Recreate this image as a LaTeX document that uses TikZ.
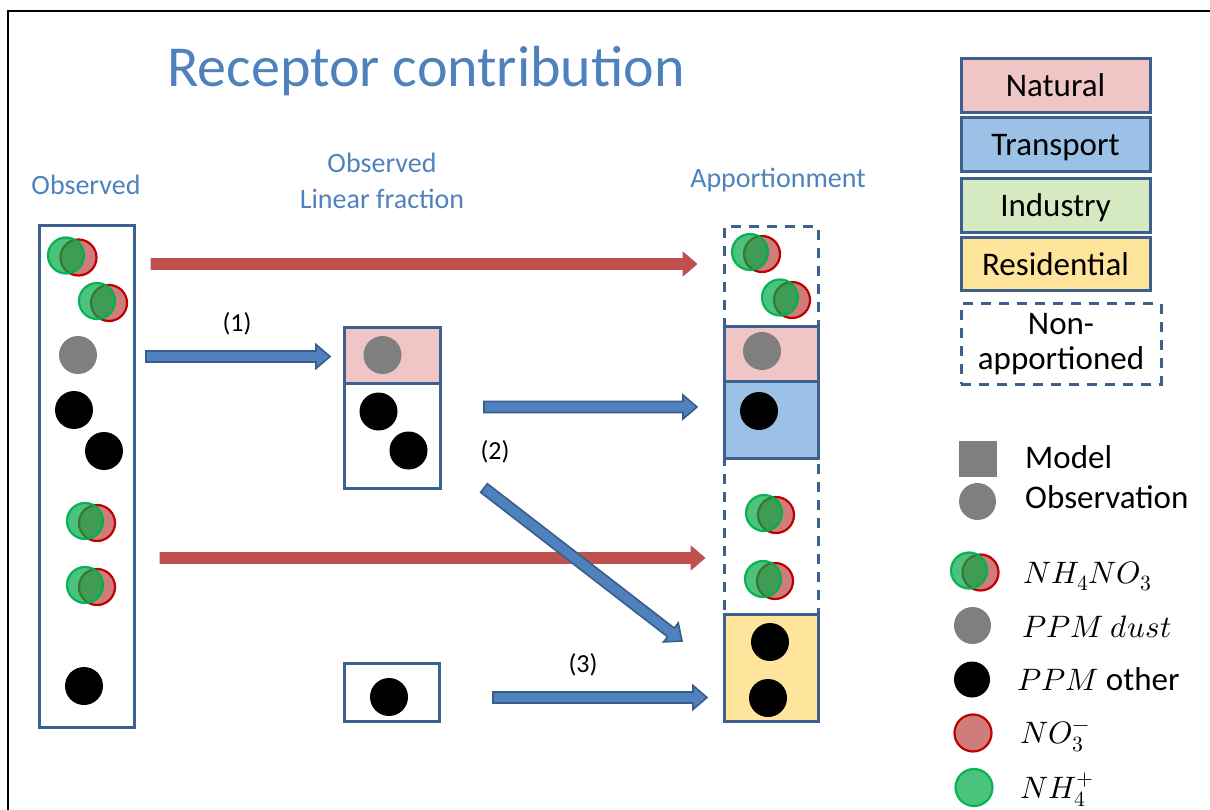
\documentclass[tikz,border=0pt]{standalone}
\usepackage{fontspec}
\usepackage{unicode-math}
\setmainfont{Carlito}
\setmathfont{Latin Modern Math}
\usetikzlibrary{calc}
\definecolor{boxc}{HTML}{3E608E}
\definecolor{txtblue}{HTML}{4F81BD}
\definecolor{natfill}{HTML}{EFC5C5}
\definecolor{trafill}{HTML}{9BC2E6}
\definecolor{indfill}{HTML}{D6EAC1}
\definecolor{resfill}{HTML}{FFE49B}
\definecolor{afill}{HTML}{4F81BD}
\definecolor{aline}{HTML}{385D8A}
\definecolor{redarr}{HTML}{C0504D}
\definecolor{dustc}{HTML}{7F7F7F}
\definecolor{no3fill}{HTML}{C0504D}
\definecolor{no3line}{HTML}{C00000}
\definecolor{nh4fill}{RGB}{0,170,70}
\definecolor{nh4line}{RGB}{0,176,80}
\tikzset{
  box/.style={draw=boxc, line width=3pt, rectangle, inner sep=0pt},
  dbox/.style={box, dash pattern=on 10pt off 8pt},
  ppm/.style={circle, fill=black, minimum size=38pt, inner sep=0pt},
  dust/.style={circle, fill=dustc, minimum size=38pt, inner sep=0pt},
  no3/.style={circle, fill=no3fill, fill opacity=0.75, draw=no3line, line width=2.2pt, minimum size=36pt, inner sep=0pt},
  nh4/.style={circle, fill=nh4fill, fill opacity=0.7, draw=nh4line, draw opacity=0.95, line width=2.2pt, minimum size=36pt, inner sep=0pt},
  blockarrow/.style={line join=miter,
    to path={let \p1=(\tikztostart), \p2=(\tikztotarget),
      \n1={atan2(\y2-\y1,\x2-\x1)}, \n2={veclen(\x2-\x1,\y2-\y1)} in
      ([shift={(\p1)},rotate=\n1]0pt,-5.5pt)
      -- ([shift={(\p1)},rotate=\n1]\n2-14pt,-5.5pt)
      -- ([shift={(\p1)},rotate=\n1]\n2-14pt,-12pt)
      -- ([shift={(\p1)},rotate=\n1]\n2+0pt,0pt)
      -- ([shift={(\p1)},rotate=\n1]\n2-14pt,12pt)
      -- ([shift={(\p1)},rotate=\n1]\n2-14pt,5.5pt)
      -- ([shift={(\p1)},rotate=\n1]0pt,5.5pt) -- cycle}},
  bluearrow/.style={blockarrow, fill=afill, draw=aline, line width=1.6pt},
  redarrow/.style={blockarrow, fill=redarr, draw=redarr, line width=0.6pt},
  lbl/.style={text=txtblue, font=\fontsize{28}{32}\selectfont, inner sep=0pt},
  title/.style={text=txtblue, font=\fontsize{58}{64}\selectfont, inner sep=0pt},
  num/.style={font=\fontsize{26}{30}\selectfont, inner sep=0pt},
  legbox/.style={box, font=\fontsize{33}{35}\selectfont, text height=22pt, text depth=0pt},
  legtxt/.style={font=\fontsize{33}{35}\selectfont, inner sep=0pt},
  legmath/.style={font=\fontsize{31}{35}\selectfont, inner sep=0pt},
}
\begin{document}
\begin{tikzpicture}[x=1pt,y=-1pt]
\useasboundingbox (0,0) rectangle (1210,810);
% frame
\draw[line width=2pt] (8,812) -- (8,11) -- (1212,11);

% titles
\node[title, anchor=base] (title) at (426,87) {Receptor contribution};
\node[lbl, anchor=base] (obsl) at (86,195) {Observed};
\node[lbl, anchor=base] (lin1) at (382,173) {Observed};
\node[lbl, anchor=base] (lin2) at (382,209) {Linear fraction};
\node[lbl, anchor=base] (appl) at (778,188) {Apportionment};

% observed column
\node[box, minimum width=95, minimum height=501] (obs) at (86.5,476.5) {};
\node[no3] (o1r) at (78.5,257.5) {}; \node[nh4] (o1g) at (66,255.5) {};
\node[no3] (o2r) at (109,303) {};   \node[nh4] (o2g) at (97,301) {};
\node[dust] (o3) at (78,355) {};
\node[ppm] (o4) at (74,410) {};
\node[ppm] (o5) at (104,451) {};
\node[no3] (o6r) at (97,523) {};    \node[nh4] (o6g) at (85,521) {};
\node[no3] (o7r) at (97,587) {};    \node[nh4] (o7g) at (85,585) {};
\node[ppm] (o8) at (84,686) {};

% middle column
\node[box, fill=natfill, minimum width=96, minimum height=56] (mpink) at (392,355) {};
\node[box, minimum width=96, minimum height=105] (mwhite) at (392,435.5) {};
\node[dust] (m1) at (382.5,355) {};
\node[ppm] (m2) at (378.5,411.5) {};
\node[ppm] (m3) at (408.5,450.5) {};
\node[box, minimum width=95, minimum height=58] (mres) at (391.5,692) {};
\node[ppm] (m4) at (389,697) {};

% right column
\node[dbox, minimum width=94, minimum height=99] (rd1) at (771,276.5) {};
\node[dbox, minimum width=94, minimum height=156] (rd2) at (771,536) {};
\node[box, fill=natfill, minimum width=94, minimum height=55] (rnat) at (771,353.5) {};
\node[box, fill=trafill, minimum width=94, minimum height=77] (rtra) at (771,419.5) {};
\node[box, fill=resfill, minimum width=94, minimum height=107] (rres) at (771,667.5) {};
\node[no3] (r1r) at (762,254) {};   \node[nh4] (r1g) at (750,252) {};
\node[no3] (r2r) at (792,300) {};   \node[nh4] (r2g) at (780,297.5) {};
\node[dust] (r3) at (762,351) {};
\node[ppm] (r4) at (759,411) {};
\node[no3] (r5r) at (776,515) {};   \node[nh4] (r5g) at (764,513) {};
\node[no3] (r6r) at (775,581) {};   \node[nh4] (r6g) at (763,579) {};
\node[ppm] (r7) at (770,642) {};
\node[ppm] (r8) at (768,698) {};

% arrows
\coordinate (a1s) at (151,264);   \coordinate (a1e) at (697,264);
\coordinate (a2s) at (146,356.5); \coordinate (a2e) at (330,356.5);
\coordinate (a3s) at (484,407);   \coordinate (a3e) at (697,407);
\coordinate (a4s) at (160,558);   \coordinate (a4e) at (705,558);
\coordinate (a5s) at (484,488);   \coordinate (a5e) at (682,641);
\coordinate (a6s) at (493,697.5); \coordinate (a6e) at (707,697.5);
\path[redarrow] (a1s) to (a1e);
\path[bluearrow] (a2s) to (a2e);
\path[bluearrow] (a3s) to (a3e);
\path[redarrow] (a4s) to (a4e);
\path[bluearrow] (a5s) to (a5e);
\path[bluearrow] (a6s) to (a6e);
\node[num] (n1) at (237,324) {(1)};
\node[num] (n2) at (495,452) {(2)};
\node[num] (n3) at (583,665) {(3)};

% legend boxes
\node[legbox, fill=natfill, minimum width=189, minimum height=54] (lnat) at (1055.5,86) {Natural};
\node[legbox, fill=trafill, minimum width=189, minimum height=54] (ltra) at (1055.5,145) {Transport};
\node[legbox, fill=indfill, minimum width=189, minimum height=54] (lind) at (1055.5,206) {Industry};
\node[legbox, fill=resfill, minimum width=189, minimum height=53] (lres) at (1055.5,264.5) {Residential};
\node[dbox, minimum width=200, minimum height=80, align=center, font=\fontsize{33}{35}\selectfont] (lnon) at (1061,344) {Non-\\apportioned};

% legend symbols
\node[rectangle, fill=dustc, minimum width=38, minimum height=36, inner sep=0pt] (lmod) at (978,459) {};
\node[legtxt, anchor=base west] (tmod) at (1025,468) {Model};
\node[dust, minimum size=37] (lobs) at (977.5,501.5) {};
\node[legtxt, anchor=base west] (tobs) at (1025,508) {Observation};
\node[no3] (lpr) at (980.5,572.5) {}; \node[nh4] (lpg) at (969,570.5) {};
\node[legmath, anchor=base west] (tpair) at (1023,583) {$NH_4NO_3$};
\node[dust, minimum size=37] (ldust) at (972.5,625.5) {};
\node[legmath, anchor=base west] (tdust) at (1022,637) {$PPM\ dust$};
\node[ppm, minimum size=36] (lppm) at (972,679.5) {};
\node[legmath, anchor=base west] (tppm) at (1017,690) {$PPM$ \fontsize{33}{35}\selectfont other};
\node[no3, minimum size=37] (lno3) at (973,733) {};
\node[legmath, anchor=base west] (tno3) at (1020,743) {$NO_3^-$};
\node[nh4, minimum size=37] (lnh4) at (974,787.5) {};
\node[legmath, anchor=base west] (tnh4) at (1020,798) {$NH_4^+$};
\end{tikzpicture}
\end{document}
